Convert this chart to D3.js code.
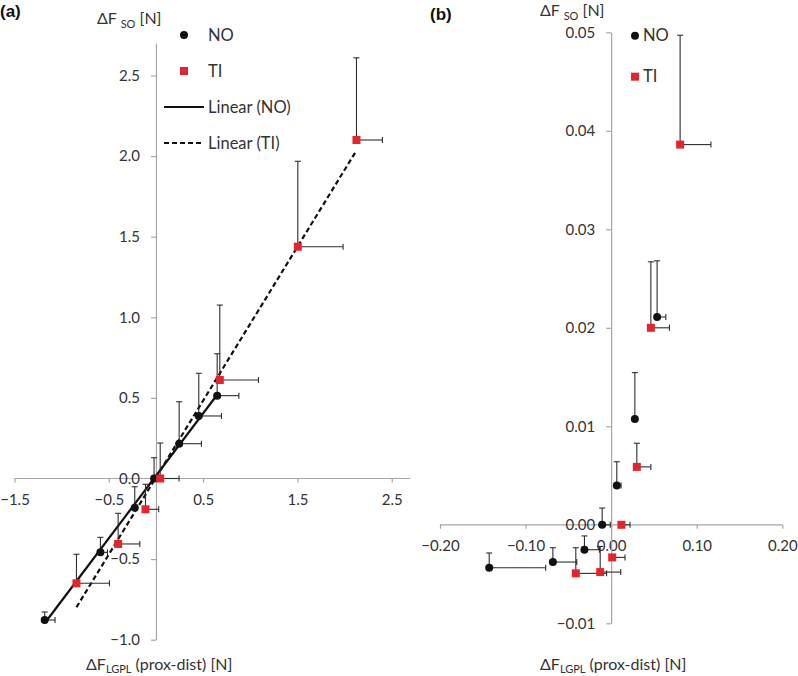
<!DOCTYPE html>
<html><head><meta charset="utf-8">
<script src="https://cdn.jsdelivr.net/npm/d3@7"></script>
<style>
body{margin:0;background:#fff;}
svg{display:block;font-family:Lato, "Open Sans", sans-serif;}
</style></head>
<body><svg id="c" width="798" height="676"></svg>
<script>
// ---- Panel (a) data ----
const aNoX    = [-1.18, -0.589, -0.225, -0.02, 0.246, 0.454, 0.649];
const aNoY    = [-0.878, -0.458, -0.181, 0.0, 0.216, 0.388, 0.514];
const aNoXerr = [0.11, 0.075, 0.03, 0.03, 0.236, 0.24, 0.23];
const aNoYerr = [0.05, 0.093, 0.13, 0.129, 0.26, 0.265, 0.26];
const aTiX    = [-0.843, -0.401, -0.111, 0.045, 0.677, 1.504, 2.126];
const aTiY    = [-0.65, -0.406, -0.191, 0.0, 0.611, 1.438, 2.1];
const aTiXerr = [0.35, 0.23, 0.14, 0.2, 0.41, 0.48, 0.275];
const aTiYerr = [0.18, 0.19, 0.155, 0.22, 0.465, 0.53, 0.51];
const aXTicks = [-1.5, -0.5, 0.5, 1.5, 2.5];
const aYTicks = [-1.0, -0.5, 0.0, 0.5, 1.0, 1.5, 2.0, 2.5];

// ---- Panel (b) data ----
const bNoX    = [-0.1425, -0.0681, -0.0312, -0.0105, 0.0066, 0.0277, 0.0537];
const bNoY    = [-0.00436, -0.00378, -0.00253, 0.0, 0.0040, 0.01075, 0.0211];
const bNoXerr = [0.066, 0.028, 0.0175, 0.0095, 0.005, 0.0, 0.0102];
const bNoYerr = [0.0015, 0.00145, 0.0014, 0.0017, 0.0024, 0.0047, 0.0057];
const bTiX    = [-0.0413, -0.0128, 0.0012, 0.012, 0.0300, 0.0464, 0.0806];
const bTiY    = [-0.00493, -0.0048, -0.00331, 0.0, 0.00588, 0.0200, 0.0386];
const bTiXerr = [0.036, 0.024, 0.015, 0.010, 0.0164, 0.0217, 0.036];
const bTiYerr = [0.0026, 0.0026, 0.0, 0.0, 0.0024, 0.0067, 0.0111];
const bXTicks = [-0.2, -0.1, 0.0, 0.1, 0.2];
const bYTicks = [-0.01, 0.0, 0.01, 0.02, 0.03, 0.04, 0.05];

const RED = "#e3262b", AXIS = "#a6a6a6", TXT = "#333333", ERR = "#2e2e2e";
const svg = d3.select("#c");

function zip(xs, ys, xe, ye){ return xs.map((x,i)=>({x, y:ys[i], xe:xe[i], ye:ye[i]})); }
function linreg(xs, ys){
  const mx=d3.mean(xs), my=d3.mean(ys);
  let sxy=0,sxx=0; xs.forEach((x,i)=>{sxy+=(x-mx)*(ys[i]-my); sxx+=(x-mx)*(x-mx);});
  const m=sxy/sxx; return {m, b:my-m*mx};
}

function drawPanel(opt){
  const g = svg.append("g");
  const x = d3.scaleLinear().domain(opt.xDom).range(opt.xRange);
  const y = d3.scaleLinear().domain(opt.yDom).range(opt.yRange);

  const xa = g.append("g").attr("transform",`translate(0,${y(0)})`)
    .call(d3.axisBottom(x).tickValues(opt.xTicks).tickFormat(d3.format(opt.xFmt)).tickSizeInner(4).tickSizeOuter(0).tickPadding(opt.xPad));
  xa.select(".domain").attr("d",`M${x(opt.xDom[0])},0H${x(opt.xDom[1])}`);
  const ya = g.append("g").attr("transform",`translate(${x(0)},0)`)
    .call(d3.axisLeft(y).tickValues(opt.yTicks).tickFormat(d3.format(opt.yFmt)).tickSizeInner(5).tickSizeOuter(0).tickPadding(opt.yPad));
  [xa,ya].forEach(a=>{
    a.select(".domain").attr("stroke",AXIS).attr("stroke-width",1.2);
    a.selectAll(".tick line").attr("stroke",AXIS).attr("stroke-width",1.2);
    a.selectAll(".tick text").attr("fill",TXT).style("font-size","15px").style("font-family","Lato, sans-serif");
  });

  if(opt.trend){
    [[opt.no, null],[opt.ti,"5,3"]].forEach(([d,dash])=>{
      const xs=d.map(p=>p.x), ys=d.map(p=>p.y), r=linreg(xs,ys);
      const x0=d3.min(xs), x1=d3.max(xs);
      g.append("line").attr("x1",x(x0)).attr("y1",y(r.m*x0+r.b)).attr("x2",x(x1)).attr("y2",y(r.m*x1+r.b))
        .attr("stroke","#111").attr("stroke-width",2.2).attr("stroke-dasharray",dash);
    });
  }

  const all = opt.no.concat(opt.ti);
  const eb = g.append("g").attr("stroke",ERR).attr("stroke-width",1.1).attr("fill","none");
  all.forEach(p=>{
    if(p.ye>0){
      eb.append("line").attr("x1",x(p.x)).attr("x2",x(p.x)).attr("y1",y(p.y)).attr("y2",y(p.y+p.ye));
      eb.append("line").attr("x1",x(p.x)-3).attr("x2",x(p.x)+3).attr("y1",y(p.y+p.ye)).attr("y2",y(p.y+p.ye));
    }
    if(p.xe>0){
      eb.append("line").attr("x1",x(p.x)).attr("x2",x(p.x+p.xe)).attr("y1",y(p.y)).attr("y2",y(p.y));
      eb.append("line").attr("x1",x(p.x+p.xe)).attr("x2",x(p.x+p.xe)).attr("y1",y(p.y)-3).attr("y2",y(p.y)+3);
    }
  });

  g.selectAll("circle.no").data(opt.no).join("circle").attr("cx",d=>x(d.x)).attr("cy",d=>y(d.y)).attr("r",4).attr("fill","#111");
  g.selectAll("rect.ti").data(opt.ti).join("rect").attr("x",d=>x(d.x)-4).attr("y",d=>y(d.y)-4).attr("width",8).attr("height",8).attr("fill",RED);
  return {x,y};
}

drawPanel({
  xDom:[-1.5,2.7], xRange:[14.5,410.6], yDom:[-1,2.7], yRange:[639.7,43.3],
  xTicks:aXTicks, yTicks:aYTicks, xFmt:".1f", yFmt:".1f", xPad:12, yPad:11,
  no:zip(aNoX,aNoY,aNoXerr,aNoYerr), ti:zip(aTiX,aTiY,aTiXerr,aTiYerr), trend:true
});
drawPanel({
  xDom:[-0.2,0.2], xRange:[440,782.3], yDom:[-0.01,0.05], yRange:[623.3,32.3],
  xTicks:bXTicks, yTicks:bYTicks, xFmt:".2f", yFmt:".2f", xPad:12, yPad:11,
  no:zip(bNoX,bNoY,bNoXerr,bNoYerr), ti:zip(bTiX,bTiY,bTiXerr,bTiYerr), trend:false
});

const T = (x,y,s,o={})=>svg.append("text").attr("x",x).attr("y",y).attr("fill",o.fill||"#222")
  .style("font-size",(o.size||16)+"px").style("font-family",o.fam||"Lato, sans-serif").style("font-weight",o.bold?"bold":"normal").text(s);

T(0,17,"(a)",{bold:true,size:17,fam:"Liberation Sans, Arial, sans-serif",fill:"#111"});
T(430,20,"(b)",{bold:true,size:17,fam:"Liberation Sans, Arial, sans-serif",fill:"#111"});

function yTitle(x0,yb){
  const t = svg.append("text").attr("x",x0).attr("y",yb).attr("fill",TXT).style("font-size","16px").style("font-family","Lato, sans-serif");
  t.append("tspan").text("\u0394F ");
  t.append("tspan").attr("dy",4).style("font-size","11px").text("SO");
  t.append("tspan").attr("dy",-4).text(" [N]");
}
function xTitle(x0,yb){
  const t = svg.append("text").attr("x",x0).attr("y",yb).attr("fill",TXT).style("font-size","16px").style("font-family","Lato, sans-serif");
  t.append("tspan").text("\u0394F");
  t.append("tspan").attr("dy",3).style("font-size","11px").text("LGPL");
  t.append("tspan").attr("dy",-3).text(" (prox-dist) [N]");
}
yTitle(97,24); yTitle(540,16);
xTitle(86,670); xTitle(540,670);

function legend(cx, yNo, yTi, tx, lines){
  svg.append("circle").attr("cx",cx).attr("cy",yNo).attr("r",4).attr("fill","#111");
  T(tx,yNo+5.5,"NO",{fill:TXT,size:16.5});
  svg.append("rect").attr("x",cx-4).attr("y",yTi-4).attr("width",8).attr("height",8).attr("fill",RED);
  T(tx,yTi+5.5,"TI",{fill:TXT,size:16.5});
  if(lines){
    lines.forEach(([yy,dash,label])=>{
      svg.append("line").attr("x1",164).attr("x2",204).attr("y1",yy).attr("y2",yy).attr("stroke","#111").attr("stroke-width",2.2).attr("stroke-dasharray",dash);
      T(tx,yy+5.5,label,{fill:TXT,size:16.5});
    });
  }
}
legend(184,35,71,208,[[107,null,"Linear (NO)"],[143,"5,3","Linear (TI)"]]);
legend(635,35.7,76.7,643,null);
</script></body></html>
